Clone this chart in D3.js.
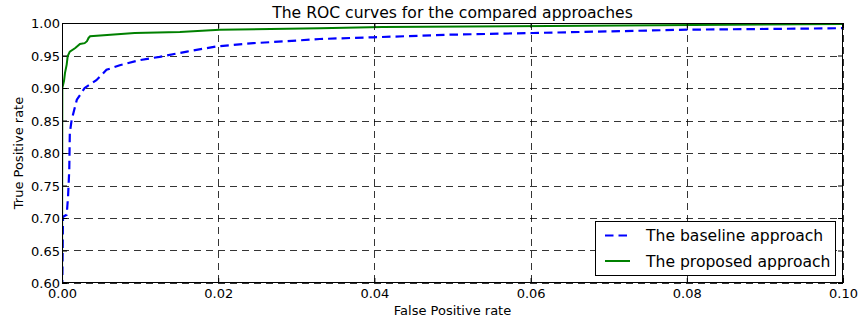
<!DOCTYPE html>
<html>
<head>
<meta charset="utf-8">
<script src="https://cdn.jsdelivr.net/npm/d3@7"></script>
<style>
  body { margin: 0; background: #fff; }
  text { font-family: "DejaVu Sans", sans-serif; fill: #000; }
</style>
</head>
<body>
<div class="chart"></div>
<script>
// false positive rate / true positive rate
var baselineFpr = [0, 0.00004, 0.00013, 0.0006, 0.00077, 0.00093, 0.001, 0.00124, 0.0019, 0.0029, 0.0044, 0.0057, 0.0074, 0.010, 0.0125, 0.016, 0.0198, 0.0245, 0.0288, 0.033, 0.0398, 0.0497, 0.0603, 0.08, 0.1];
var baselineTpr = [0.55, 0.60, 0.702, 0.705, 0.732, 0.774, 0.831, 0.851, 0.882, 0.900, 0.912, 0.928, 0.935, 0.943, 0.948, 0.956, 0.964, 0.969, 0.972, 0.9754, 0.978, 0.982, 0.9846, 0.9897, 0.992];

var proposedFpr = [0, 0.00004, 0.00026, 0.00038, 0.0006, 0.00073, 0.001, 0.0017, 0.0023, 0.0029, 0.0032, 0.0034, 0.0036, 0.0093, 0.0151, 0.0202, 0.033, 0.041, 0.0625, 0.1];
var proposedTpr = [0.55, 0.900, 0.911, 0.923, 0.936, 0.949, 0.956, 0.9615, 0.9677, 0.969, 0.972, 0.977, 0.9795, 0.9846, 0.986, 0.9897, 0.992, 0.9938, 0.9954, 0.9985];

var xTicks = [0, 0.02, 0.04, 0.06, 0.08, 0.10];
var yTicks = [0.60, 0.65, 0.70, 0.75, 0.80, 0.85, 0.90, 0.95, 1.00];
var seriesNames = ["The baseline approach", "The proposed approach"];

var chart_width = 861, chart_height = 320;
var m = { left: 62, right: 843, top: 23, bottom: 283 };

var svg = d3.select('.chart')
  .append('svg')
  .attr('width', chart_width)
  .attr('height', chart_height);

var x = d3.scaleLinear().domain([0, 0.1]).range([m.left, m.right]);
var y = d3.scaleLinear().domain([0.6, 1.0]).range([m.bottom, m.top]);

svg.append('defs').append('clipPath').attr('id', 'clip')
  .append('rect')
  .attr('x', m.left).attr('y', m.top)
  .attr('width', m.right - m.left).attr('height', m.bottom - m.top);

// grid
var grid = svg.append('g').attr('stroke', '#000').attr('stroke-width', 0.8)
  .attr('stroke-dasharray', '7,5');
grid.selectAll('.gx').data(xTicks).enter().append('line')
  .attr('x1', d => Math.round(x(d)) + 0.5).attr('x2', d => Math.round(x(d)) + 0.5)
  .attr('y1', m.top).attr('y2', m.bottom);
grid.selectAll('.gy').data(yTicks).enter().append('line')
  .attr('y1', d => Math.round(y(d)) + 0.5).attr('y2', d => Math.round(y(d)) + 0.5)
  .attr('x1', m.left).attr('x2', m.right);

// curves
var line = d3.line().x(d => x(d[0])).y(d => y(d[1]));
var plot = svg.append('g').attr('clip-path', 'url(#clip)');

plot.append('path')
  .datum(d3.zip(baselineFpr, baselineTpr))
  .attr('d', line)
  .attr('fill', 'none')
  .attr('stroke', '#0000ff')
  .attr('stroke-width', 2.2)
  .attr('stroke-dasharray', '8.5,5');

plot.append('path')
  .datum(d3.zip(proposedFpr, proposedTpr))
  .attr('d', line)
  .attr('fill', 'none')
  .attr('stroke', '#008000')
  .attr('stroke-width', 2);

// axes, ticks pointing inward
var xAxis = svg.append('g').attr('transform', 'translate(0,' + m.bottom + ')')
  .call(d3.axisBottom(x).tickValues(xTicks).tickFormat(d3.format('.2f')).tickSizeInner(-5).tickSizeOuter(0).tickPadding(8));
var xAxisTop = svg.append('g').attr('transform', 'translate(0,' + m.top + ')')
  .call(d3.axisTop(x).tickValues(xTicks).tickFormat('').tickSizeInner(-5).tickSizeOuter(0));
var yAxis = svg.append('g').attr('transform', 'translate(' + m.left + ',0)')
  .call(d3.axisLeft(y).tickValues(yTicks).tickFormat(d3.format('.2f')).tickSizeInner(-5).tickSizeOuter(0).tickPadding(8));
var yAxisRight = svg.append('g').attr('transform', 'translate(' + m.right + ',0)')
  .call(d3.axisRight(y).tickValues(yTicks).tickFormat('').tickSizeInner(-5).tickSizeOuter(0));

[xAxis, xAxisTop, yAxis, yAxisRight].forEach(function (g) {
  g.select('.domain').remove();
  g.selectAll('line').attr('stroke', '#000');
  g.selectAll('text').style('font-size', '13px').style('font-family', '"DejaVu Sans", sans-serif').attr('fill', '#000');
});
xAxis.selectAll('text').attr('dy', '0.5em');
yAxis.selectAll('text').attr('dy', '0.36em').attr('x', -2);

// frame
svg.append('rect')
  .attr('x', m.left + 0.5).attr('y', m.top + 0.5)
  .attr('width', m.right - m.left - 1).attr('height', m.bottom - m.top - 1)
  .attr('fill', 'none').attr('stroke', '#000').attr('stroke-width', 1);

// title and labels
svg.append('text')
  .attr('x', (m.left + m.right) / 2).attr('y', 18)
  .attr('text-anchor', 'middle')
  .style('font-size', '15.6px')
  .text('The ROC curves for the compared approaches');

svg.append('text')
  .attr('x', (m.left + m.right) / 2).attr('y', 315)
  .attr('text-anchor', 'middle')
  .style('font-size', '13px')
  .text('False Positive rate');

svg.append('text')
  .attr('transform', 'translate(23,' + (m.top + m.bottom) / 2 + ') rotate(-90)')
  .attr('text-anchor', 'middle')
  .style('font-size', '13px')
  .text('True Positive rate');

// legend
var legend = svg.append('g');
legend.append('rect')
  .attr('x', 595.5).attr('y', 221.5)
  .attr('width', 240).attr('height', 54)
  .attr('fill', '#fff').attr('stroke', '#000').attr('stroke-width', 1);

var legendStyles = [
  { color: '#0000ff', dash: '8.5,5' },
  { color: '#008000', dash: null }
];
seriesNames.forEach(function (name, i) {
  var ly = 235.5 + i * 25.5;
  legend.append('line')
    .attr('x1', 605).attr('x2', 630)
    .attr('y1', ly).attr('y2', ly)
    .attr('stroke', legendStyles[i].color)
    .attr('stroke-width', 2)
    .attr('stroke-dasharray', legendStyles[i].dash);
  legend.append('text')
    .attr('x', 646).attr('y', ly + 5.5)
    .style('font-size', '15.6px')
    .text(name);
});
</script>
</body>
</html>
